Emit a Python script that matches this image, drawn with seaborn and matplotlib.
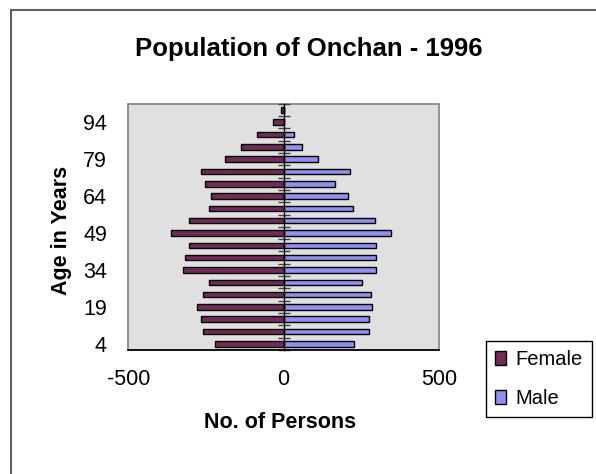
import pandas as pd
import matplotlib
matplotlib.use('Agg')
import matplotlib.pyplot as plt
from matplotlib.patches import Rectangle
import seaborn as sns

# Age group labels (upper age of each 5-year band) and head counts
ages = [4, 9, 14, 19, 24, 29, 34, 39, 44, 49, 54, 59, 64, 69, 74, 79, 84, 89, 94, 99]
female = [220, 260, 266, 278, 260, 241, 325, 318, 304, 364, 304, 242, 234, 254, 266, 189, 138, 86, 34, 8]
male = [228, 274, 274, 286, 280, 254, 299, 299, 299, 345, 294, 222, 208, 165, 215, 112, 60, 34, 0, 2]
shown_ages = [4, 19, 34, 49, 64, 79, 94]
x_ticks = [-500, 0, 500]

female_color = '#7F1F5C'
male_color = '#8080FF'

sns.set_style('white')
plt.rcParams['font.family'] = ['Liberation Sans', 'DejaVu Sans']
plt.rcParams['text.color'] = 'black'
plt.rcParams['axes.labelcolor'] = 'black'
plt.rcParams['xtick.color'] = 'black'
plt.rcParams['ytick.color'] = 'black'

# Long-form table, females plotted to the left
df = pd.DataFrame({
    'Age': [str(a) for a in ages] * 2,
    'Persons': [-v for v in female] + male,
    'Sex': ['Female'] * len(ages) + ['Male'] * len(ages),
})
order = [str(a) for a in ages][::-1]

fig = plt.figure(figsize=(5.96, 4.74), dpi=100)
ax = fig.add_axes([0.2156, 0.2616, 0.5206, 0.5196])

sns.barplot(data=df, x='Persons', y='Age', hue='Sex', order=order,
            hue_order=['Female', 'Male'], palette=[female_color, male_color],
            dodge=False, width=0.45, errorbar=None, edgecolor='black',
            linewidth=1, ax=ax)

ax.set_xlim(-500, 500)
ax.set_ylim(len(ages) - 0.5, -0.5)
ax.set_facecolor('#E0E0E0')
ax.patch.set_edgecolor('#808080')
ax.patch.set_linewidth(1.2)

# spines: centre line at zero acts as the category axis
ax.spines['top'].set_visible(False)
ax.spines['left'].set_visible(False)
ax.spines['right'].set_position(('data', 0))
ax.spines['right'].set_color('black')
ax.spines['right'].set_linewidth(1)
ax.spines['bottom'].set_color('black')
ax.spines['bottom'].set_linewidth(1.2)

ax.set_xticks(x_ticks)
ax.set_xticklabels([str(t) for t in x_ticks], fontsize=15.5)
ax.tick_params(axis='x', direction='out', length=5, width=1, color='black', pad=9)

ax.set_yticks([order.index(str(a)) for a in shown_ages])
ax.set_yticklabels([str(a) for a in shown_ages], fontsize=15.5)
ax.set_yticks([i - 0.5 for i in range(len(ages) + 1)], minor=True)
ax.tick_params(axis='y', which='major', left=False, right=False, labelleft=True, pad=12)
ax.tick_params(axis='y', which='minor', left=False, right=True, direction='inout',
               length=8, width=1, color='#404040')

ax.set_xlabel('No. of Persons', fontsize=15.5, fontweight='bold')
ax.xaxis.label.set_va('center')
ax.xaxis.set_label_coords(0.49, -0.296)
ax.set_ylabel('Age in Years', fontsize=15.5, fontweight='bold')
ax.yaxis.label.set_va('center')
ax.yaxis.set_label_coords(-0.2175, 0.487)

fig.text(0.5178, 0.896, 'Population of Onchan - 1996', fontsize=18.5,
         fontweight='bold', ha='center', va='center')

ax.legend(loc='upper left', bbox_to_anchor=(486 / 596, 1 - 341 / 474),
          bbox_transform=fig.transFigure, fontsize=14.5, frameon=True,
          fancybox=False, edgecolor='black', framealpha=1, borderaxespad=0,
          handlelength=0.55, handleheight=0.7, handletextpad=0.45,
          labelspacing=1.0, borderpad=0.45, title=None)
ax.get_legend().get_frame().set_linewidth(1)

# chart area border (runs off the right and bottom of the image)
fig.add_artist(Rectangle((10.5 / 596, -0.2), 1.3, 1.2 - 10.5 / 474,
                         transform=fig.transFigure, fill=False,
                         edgecolor='#606060', linewidth=1.5))

fig.savefig('out.png', dpi=100)
